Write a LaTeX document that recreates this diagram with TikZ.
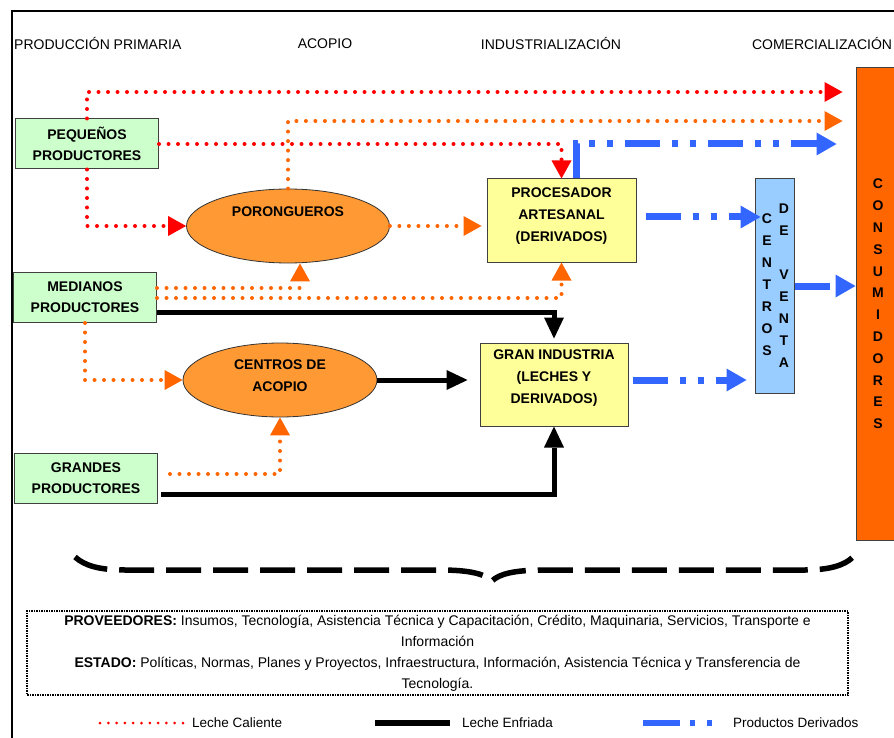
\documentclass[tikz,border=0pt]{standalone}
\usepackage{fontspec}
\setmainfont{Liberation Sans}
\usetikzlibrary{shapes.geometric,arrows.meta,calc}
\definecolor{verde}{HTML}{CCFFCC}
\definecolor{amarillo}{HTML}{FFFF99}
\definecolor{naranja}{HTML}{FF9933}
\definecolor{naranjo}{HTML}{FF6600}
\definecolor{azul}{HTML}{3366FF}
\definecolor{celeste}{HTML}{99CCFF}
\definecolor{rojo}{HTML}{FF0000}
\tikzset{
  cabecera/.style={inner sep=0pt, font=\fontsize{14}{17}\selectfont},
  productor/.style={draw=black!75, fill=verde, line width=1pt, minimum width=143pt, minimum height=50pt,
    inner sep=0pt, align=center, font=\fontsize{14}{21}\selectfont\bfseries},
  centro/.style={ellipse, draw=black!80, fill=naranja, line width=0.8pt, inner sep=0pt,
    align=center, font=\fontsize{14}{22}\selectfont\bfseries},
  planta/.style={draw=black!75, fill=amarillo, line width=1pt, minimum width=149pt, minimum height=83pt,
    inner sep=0pt, align=center, font=\fontsize{14}{22}\selectfont\bfseries},
  ventabox/.style={draw=black!75, fill=celeste, line width=1pt, minimum width=39pt, minimum height=214pt},
  consbox/.style={draw=black!75, fill=naranjo, line width=1pt, minimum width=44pt, minimum height=472pt,
    inner sep=0pt, align=center, font=\fontsize{14}{21.8}\selectfont\bfseries},
  letras/.style={inner sep=0pt, align=center, font=\fontsize{14}{22}\selectfont\bfseries},
  caliente/.style={draw=rojo, line width=4pt, line cap=round, dash pattern=on 0pt off 9.5pt,
    -{Triangle[length=18pt,width=20pt,line width=0pt,fill=rojo]}},
  tibia/.style={draw=naranjo, line width=4pt, line cap=round, dash pattern=on 0pt off 9.5pt,
    -{Triangle[length=18pt,width=20pt,line width=0pt,fill=naranjo]}},
  fria/.style={draw=black, line width=5pt, -{Triangle[length=21pt,width=20pt,line width=0pt]}},
  derivado/.style={draw=azul, line width=7pt, dash pattern=on 35pt off 12pt on 6pt off 12pt on 6pt off 12pt,
    -{Triangle[length=20pt,width=23pt,line width=0pt,fill=azul]}},
  nota/.style={draw, line width=1.5pt, dash pattern=on 1.5pt off 1pt, minimum width=821pt, minimum height=84pt,
    inner sep=0pt, align=center, font=\fontsize{14}{21}\selectfont},
  leyenda/.style={inner sep=0pt, anchor=west, font=\fontsize{13.5}{16}\selectfont}
}
\begin{document}
\begin{tikzpicture}[x=1pt,y=-1pt]
\useasboundingbox (0,0) rectangle (894,738);
\draw[line width=1.3pt] (12,738) -- (12,11) -- (894,11);

\node[cabecera,anchor=west] (hprod) at (14,44) {PRODUCCIÓN PRIMARIA};
\node[cabecera] (hacop) at (325,44) {ACOPIO};
\node[cabecera] (hind) at (551,44) {INDUSTRIALIZACIÓN};
\node[cabecera] (hcom) at (822,44) {COMERCIALIZACIÓN};

\node[productor] (peq) at (87,144) {PEQUEÑOS\\PRODUCTORES};
\node[productor] (med) at (85,297.5) {MEDIANOS\\PRODUCTORES};
\node[productor] (gra) at (86,478.5) {GRANDES\\PRODUCTORES};

\node[centro, minimum width=203pt, minimum height=74pt] (poro) at (288,226) {};
\node[letras] (porot) at ([yshift=14pt]poro.center) {PORONGUEROS};
\node[centro, minimum width=194pt, minimum height=74pt, text depth=9pt] (acop) at (280,380) {CENTROS DE\\ACOPIO};

\node[planta, text depth=11pt] (proc) at (561.5,220.5) {PROCESADOR\\ARTESANAL\\(DERIVADOS)};
\node[planta, minimum width=148pt, text depth=15pt] (gran) at (554,384.5) {GRAN INDUSTRIA\\(LECHES Y\\DERIVADOS)};

\node[ventabox] (venta) at (774.5,286) {};
\node[letras] (vcen) at (767,285) {C\\E\\N\\T\\R\\O\\S};
\node[letras] (vde) at (784,286) {D\\E\\[22pt]V\\E\\N\\T\\A};

\node[consbox] (cons) at (878,304) {C\\O\\N\\S\\U\\M\\I\\D\\O\\R\\E\\S};

\draw[caliente, shorten >=13pt] (peq.north) |- (cons.west |- 0,92);
\draw[caliente] (peq.east) -| (proc.north);
\draw[caliente] (peq.south) |- (poro.west);

\draw[tibia, shorten >=13pt] (poro.north) |- (cons.west |- 0,121);
\draw[tibia, shorten >=5pt] (poro.east) -- (proc.west |- poro.east);
\draw[tibia] (med.east |- 0,288) -| ($(poro.south)+(12,0)$);
\draw[tibia] (med.east |- 0,298) -| (proc.south);
\draw[tibia] (med.south) |- (acop.west);
\draw[tibia, shorten <=12pt] (gra.east |- 0,474) -| (acop.south);

\draw[fria, shorten >=4pt] (med.east |- 0,312) -| (gran.north);
\draw[fria, shorten >=12pt] (acop.east) -- (gran.west |- acop.east);
\draw[fria, shorten <=3pt] (gra.east |- 0,494) -| (gran.south);

\draw[derivado, shorten >=19pt] ([xshift=15pt]proc.north) |- (cons.west |- 0,144);
\draw[derivado, shorten <=9pt, shorten >=-6pt] (proc.east |- 0,217) -- (venta.west |- 0,217);
\draw[derivado, shorten <=4pt, shorten >=8pt] (gran.east |- 0,380) -- (venta.west |- 0,380);
\draw[derivado] (venta.east) -- (cons.west |- venta.east);

\draw[line width=5.5pt, dash pattern=on 35pt off 12pt] (75,557) .. controls (85,566) and (100,570) .. (125,570)
  -- (440,570) .. controls (470,570) and (485,574) .. (492,581) .. controls (499,574) and (514,570) .. (545,570)
  -- (805,570) .. controls (830,570) and (845,565) .. (853,557);

\node[nota] (apoyo) at (437.5,653) {\textbf{PROVEEDORES:} Insumos, Tecnología, Asistencia Técnica y Capacitación, Crédito, Maquinaria, Servicios, Transporte e\\Información\\\textbf{ESTADO:} Políticas, Normas, Planes y Proyectos, Infraestructura, Información, Asistencia Técnica y Transferencia de\\Tecnología.};

\node[leyenda] (lcal) at (192,723) {Leche Caliente};
\node[leyenda] (lfri) at (462,723) {Leche Enfriada};
\node[leyenda] (lder) at (733,723) {Productos Derivados};
\draw[draw=rojo, line width=3pt, line cap=round, dash pattern=on 0pt off 8.3pt] ([xshift=-92pt]lcal.west) -- ([xshift=-8pt]lcal.west);
\draw[line width=6pt] ([xshift=-87pt]lfri.west) -- ([xshift=-12pt]lfri.west);
\draw[draw=azul, line width=6pt, dash pattern=on 37pt off 10pt on 5pt off 12pt on 5pt off 20pt] ([xshift=-90pt]lder.west) -- ([xshift=-20pt]lder.west);
\end{tikzpicture}
\end{document}
